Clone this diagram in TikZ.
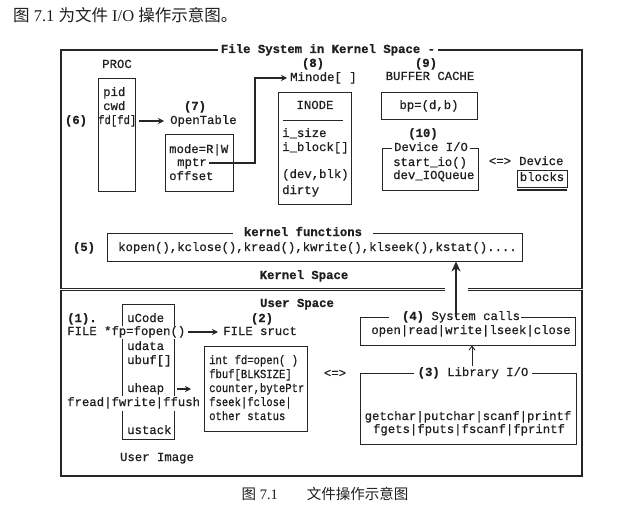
\documentclass[tikz,border=0pt]{standalone}
\usepackage{fontspec}
\setmainfont{Liberation Mono}[RawFeature={embolden=0.6}]
\newfontfamily\narrowmono{Liberation Mono}[FakeStretch=0.86, RawFeature={embolden=0.6}]
\newfontfamily\cjk{Noto Sans CJK SC}
\newfontfamily\latserif{Liberation Serif}
\usetikzlibrary{arrows.meta}
\begin{document}
\begin{tikzpicture}[x=1pt,y=-1pt,
  every node/.style={inner sep=0pt, text=black!88},
  t/.style={font=\fontsize{12.3}{14}\selectfont, text height=8.5pt, text depth=2.5pt},
  ts/.style={font=\narrowmono\fontsize{12.3}{14}\selectfont, text height=8.5pt, text depth=2.5pt},
  tb/.style={t, font=\fontsize{12.3}{14}\selectfont\bfseries},
  box/.style={draw=black!85, line width=0.9pt, inner sep=0pt},
  lbl/.style={fill=white, inner xsep=3pt, inner ysep=1pt},
  arr/.style={draw=black!85, line width=1.4pt, -{Stealth[length=6pt,width=6pt]}},
  bigarr/.style={draw=black!85, line width=2.4pt, -{Stealth[length=10pt,width=9pt]}},
  thinarr/.style={draw=black!85, line width=0.9pt, -{Straight Barb[length=4pt,width=6pt]}},
  rule/.style={draw=black!85, line width=0.9pt},
  sepline/.style={draw=black!85, line width=0.7pt, double=white, double distance=1.2pt}
]
\useasboundingbox (0,0) rectangle (639,513);
\fill[white] (0,0) rectangle (639,513);

% header and caption
\node[anchor=west, font=\latserif\fontsize{16.5}{18}\selectfont] (hdr) at (13,15)
  {{\cjk 图} 7.1 {\cjk 为文件} I/O {\cjk 操作示意图。}};
\node[font=\latserif\fontsize{14.5}{16}\selectfont] (cap) at (325,494)
  {{\cjk 图} 7.1\hspace{2em}{\cjk 文件操作示意图}};

% outer frame and separator
\node[box, line width=1.1pt, minimum width=521pt, minimum height=426pt] (frame) at (321.5,263) {};
\coordinate (gapL) at (445,289.5);
\coordinate (gapR) at (468,289.5);
\draw[sepline] (frame.west |- gapL) -- (gapL);
\draw[sepline] (gapR) -- (frame.east |- gapR);
\node[tb, lbl] (fsttl) at (328,50) {File System in Kernel Space -};

% boxes
\node[box, minimum width=37pt, minimum height=113pt] (procbox) at (116.5,134.5) {};
\node[box, minimum width=68pt, minimum height=57pt] (otbox) at (199,162.5) {};
\node[box, minimum width=73pt, minimum height=112pt] (inbox) at (314.5,148) {};
\node[box, minimum width=96pt, minimum height=27pt] (bpbox) at (429,105.5) {};
\node[box, minimum width=96pt, minimum height=42pt] (devbox) at (430,169) {};
\node[box, minimum width=50pt, minimum height=17pt] (blkbox) at (542,178.5) {};
\draw[line width=1.3pt, draw=black!85] ([yshift=-2.6pt]blkbox.south west) -- ([yshift=-2.6pt]blkbox.south east);
\node[box, minimum width=415pt, minimum height=28pt] (kfbox) at (314.5,247) {};
\node[box, minimum width=52pt, minimum height=135pt] (uibox) at (148,371.5) {};
\node[box, minimum width=103pt, minimum height=85pt] (fsbox) at (255.5,388.5) {};
\node[box, minimum width=215pt, minimum height=28pt] (sysbox) at (467.5,331) {};
\node[box, minimum width=216pt, minimum height=71pt] (libbox) at (468,408.5) {};

% PROC
\node[t] (proc) at (117,65) {PROC};
\node[t, anchor=west] (pid) at (103,93) {pid};
\node[t, anchor=west] (cwd) at (103,107) {cwd};
\node[ts, anchor=west] (fd) at (98,121) {fd[fd]};
\node[tb] (n6) at (76,121) {(6)};

% OpenTable
\node[tb] (n7) at (195,107) {(7)};
\node[t, anchor=west] (ot) at (170,121) {OpenTable};
\node[t, anchor=west] (mode) at (169,150) {mode=R|W};
\node[t, anchor=west] (mptr) at (177,163) {mptr};
\node[t, anchor=west] (offset) at (169,177) {offset};

% Minode / INODE
\node[tb] (n8) at (313,64) {(8)};
\node[t, anchor=west] (minode) at (290,78) {Minode[ ]};
\node[t] (inode) at (315,106) {INODE};
\draw[rule] (283,120) -- (343,120);
\node[t, anchor=west] (isize) at (282,134) {i\_size};
\node[t, anchor=west] (iblock) at (282,148) {i\_block[]};
\node[t, anchor=west] (devblk) at (282,175) {(dev,blk)};
\node[t, anchor=west] (dirty) at (282,191) {dirty};

% buffer cache / device
\node[tb] (n9) at (426,64) {(9)};
\node[t] (bc) at (430,77) {BUFFER CACHE};
\node[t] (bp) at (429,106) {bp=(d,b)};
\node[tb] (n10) at (423,134) {(10)};
\node[t, lbl, inner xsep=2pt] (devttl) at (431,148) {Device I/O};
\node[t, anchor=west] (startio) at (393,163) {start\_io()};
\node[t, anchor=west] (devq) at (393,176) {dev\_IOQueue};
\node[t] (eq1) at (500,162) {<=>};
\node[t, anchor=west] (device) at (519,162) {Device};
\node[t] (blocks) at (542,178) {blocks};

% kernel functions
\node[tb, lbl, inner xsep=11pt] (kfttl) at (303,233) {kernel functions};
\node[tb] (n5) at (84,248) {(5)};
\node[t, anchor=west] (kf) at (118,248) {kopen(),kclose(),kread(),kwrite(),klseek(),kstat()....};
\node[tb] (ks) at (304,276) {Kernel Space};

% user space
\node[tb] (us) at (297,304) {User Space};
\node[tb, anchor=west] (n1) at (67,319) {(1).};
\node[t, anchor=west, fill=white, inner ysep=1pt] (fopen) at (67,332) {FILE *fp=fopen()};
\node[t, anchor=west] (ucode) at (127,319) {uCode};
\node[t, anchor=west] (udata) at (127,347) {udata};
\node[t, anchor=west] (ubuf) at (127,361) {ubuf[]};
\node[t, anchor=west] (uheap) at (127,389) {uheap};
\node[t, anchor=west, fill=white, inner ysep=2pt] (fread) at (67,403) {fread|fwrite|ffush};
\node[t, anchor=west] (ustack) at (127,431) {ustack};
\node[t] (uimg) at (157,458) {User Image};

\node[tb] (n2) at (262,319) {(2)};
\node[t, anchor=west] (sruct) at (223,332) {FILE sruct};
\node[ts, anchor=west] (intfd) at (209,361) {int fd=open( )};
\node[ts, anchor=west] (fbuf) at (209,375) {fbuf[BLKSIZE]};
\node[ts, anchor=west] (counter) at (209,389) {counter,bytePtr};
\node[ts, anchor=west] (fseek) at (209,403) {fseek|fclose|};
\node[ts, anchor=west] (other) at (209,417) {other status};
\node[t] (eq2) at (335,374) {<=>};

% system calls / library
\node[t, lbl, inner xsep=1pt] (systtl) at (455,317) {\hspace{12pt}\textbf{(4)} System calls};
\node[t] (sys) at (471,331) {open|read|write|lseek|close};
\node[t, lbl, inner xsep=4pt] (libttl) at (473,373) {\textbf{(3)} Library I/O};
\node[t] (lib1) at (468,417) {getchar|putchar|scanf|printf};
\node[t] (lib2) at (469,430) {fgets|fputs|fscanf|fprintf};

% connectors
\draw[arr, shorten <=3pt, shorten >=6pt] (fd.east) -- (ot.west);
\coordinate (bend) at (255,78);
\draw[arr, line width=1.3pt] ([xshift=2pt]mptr.east) -- (mptr.east -| bend) -- (bend) -- ([xshift=-3pt]minode.west);
\draw[arr, shorten <=2pt, shorten >=5pt] (fopen.east) -- (sruct.west);
\draw[arr, shorten <=13pt, shorten >=18pt] (uheap.east) -- (counter.west);
\coordinate (ax) at (456,300);
\draw[bigarr] (ax |- sysbox.north) -- (ax |- kfbox.south);
\coordinate (sx) at (472,360);
\draw[thinarr] (sx |- libttl.north) -- (sx |- sysbox.south);
\end{tikzpicture}
\end{document}
